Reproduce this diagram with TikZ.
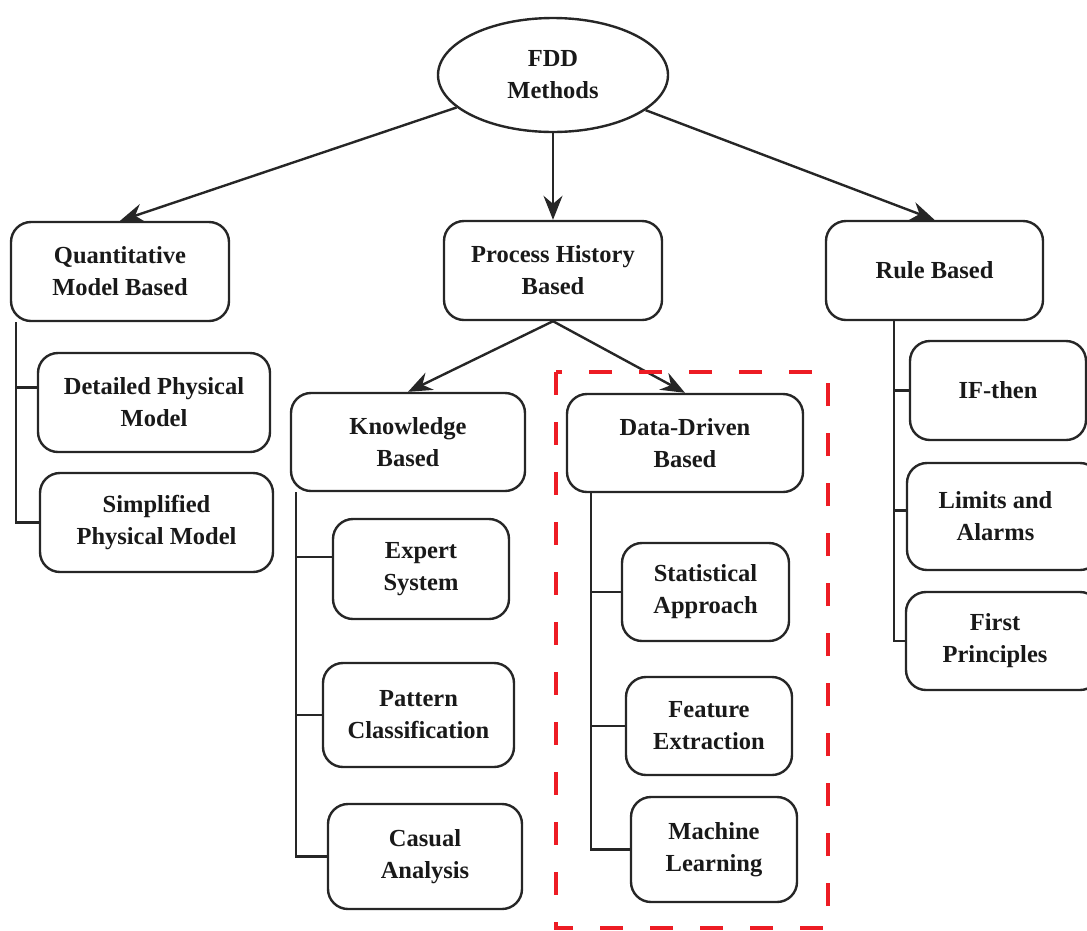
\documentclass[tikz,border=0pt]{standalone}
\usepackage{fontspec}
\setmainfont{Liberation Serif}
\usetikzlibrary{shapes.geometric,arrows.meta}
\begin{document}
\begin{tikzpicture}[x=1pt,y=-1pt,
  box/.style={draw=black!85,line width=2.4pt,rounded corners=20pt,align=center,inner sep=0pt,
    font=\fontsize{24.5}{32}\selectfont\bfseries,text=black!90},
  lnk/.style={draw=black!85,line width=2.4pt},
  arr/.style={lnk,-{Stealth[length=24pt,width=19pt,inset=8pt]}},
  redbox/.style={draw={rgb,255:red,237;green,28;blue,36},line width=3.6pt,dash pattern=on 23pt off 27pt}]
\useasboundingbox (0,0) rectangle (1087,930);
\newcommand{\bx}[6]{\node[box,minimum width={#4-#2},minimum height={#5-#3}] (#1) at ({(#2+#4)/2},{(#3+#5)/2}) {#6};}
\node[draw=black!85,line width=2.4pt,ellipse,minimum width=230pt,minimum height=114pt,inner sep=0pt,align=center,
  font=\fontsize{24.5}{32}\selectfont\bfseries,text=black!90] (fdd) at (553,75) {FDD\\Methods};
\bx{quant}{11}{222}{229}{321}{Quantitative\\Model Based}
\bx{proc}{444}{221}{662}{320}{Process History\\Based}
\bx{rule}{826}{221}{1043}{320}{Rule Based}
\bx{det}{38}{353}{270}{452}{Detailed Physical\\Model}
\bx{simp}{40}{473}{273}{572}{Simplified\\Physical Model}
\bx{know}{291}{393}{525}{491}{Knowledge\\Based}
\bx{dd}{567}{394}{803}{492}{Data-Driven\\Based}
\bx{exp}{333}{519}{509}{619}{Expert\\System}
\bx{pat}{323}{663}{514}{767}{Pattern\\Classification}
\bx{cas}{328}{804}{522}{909}{Casual\\Analysis}
\bx{stat}{622}{543}{789}{641}{Statistical\\Approach}
\bx{feat}{626}{677}{792}{775}{Feature\\Extraction}
\bx{ml}{631}{797}{797}{902}{Machine\\Learning}
\bx{ifth}{910}{341}{1086}{440}{IF-then}
\bx{lim}{907}{463}{1100}{570}{\hspace*{-16pt}Limits and\\\hspace*{-16pt}Alarms}
\bx{fp}{906}{592}{1100}{690}{\hspace*{-16pt}First\\\hspace*{-16pt}Principles}
% arrows
\draw[arr] (fdd) -- (quant.north);
\draw[arr] (fdd) -- (proc.north);
\draw[arr] (fdd) -- (rule.north);
\draw[arr] (proc.south) -- (know.north);
\draw[arr] (proc.south) -- (dd.north);
% trees
\draw[lnk] ([xshift=6pt]quant.south west) |- ([yshift=15pt]det.west);
\draw[lnk] ([xshift=6pt]quant.south west) |- (simp.west);
\draw[lnk] ([xshift=6pt]know.south west) |- ([yshift=12pt]exp.west);
\draw[lnk] ([xshift=6pt]know.south west) |- (pat.west);
\draw[lnk] ([xshift=6pt]know.south west) |- (cas.west);
\draw[lnk] ([xshift=25pt]dd.south west) |- (stat.west);
\draw[lnk] ([xshift=25pt]dd.south west) |- (feat.west);
\draw[lnk] ([xshift=25pt]dd.south west) |- (ml.west);
\draw[lnk] ([xshift=69pt]rule.south west) |- (ifth.west);
\draw[lnk] ([xshift=69pt]rule.south west) |- ([yshift=6pt]lim.west);
\draw[lnk] ([xshift=69pt]rule.south west) |- (fp.west);
% red dashed frame
\coordinate (r1) at (556,372);
\coordinate (r2) at (828,928);
\draw[redbox] (r1) rectangle (r2);
\end{tikzpicture}
\end{document}
